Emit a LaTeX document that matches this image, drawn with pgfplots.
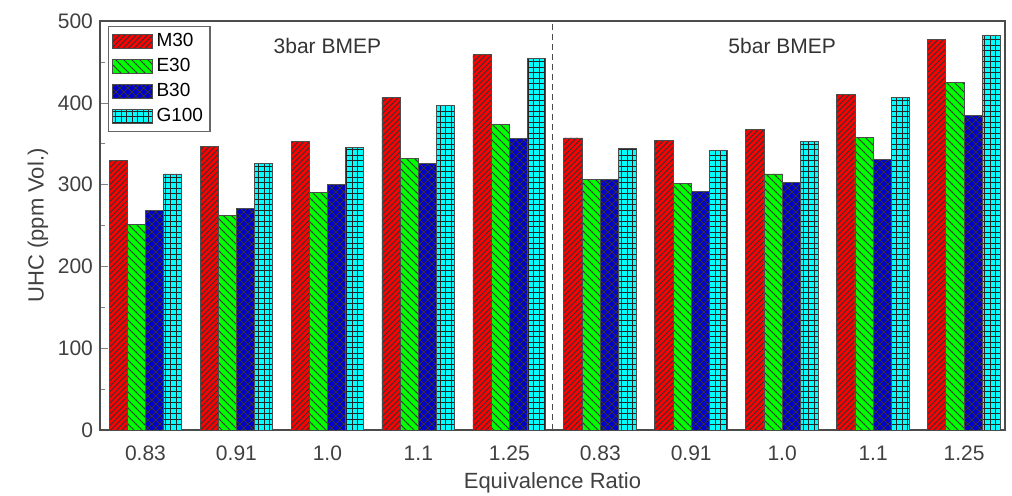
\documentclass[border=0pt]{standalone}
\usepackage{fontspec}
\setmainfont{Liberation Sans}
\usepackage{pgfplots}
\pgfplotsset{compat=1.18}
\usetikzlibrary{patterns}
\definecolor{cM}{RGB}{255,0,0}
\definecolor{cE}{RGB}{0,255,0}
\definecolor{cB}{RGB}{0,0,210}
\definecolor{cG}{RGB}{0,255,255}
\pgfdeclarepatternformonly{myNE}{\pgfqpoint{-1pt}{-1pt}}{\pgfqpoint{4pt}{4pt}}{\pgfqpoint{2.8pt}{2.8pt}}%
{\pgfsetlinewidth{0.45pt}\pgfpathmoveto{\pgfqpoint{-0.1pt}{-0.1pt}}\pgfpathlineto{\pgfqpoint{2.9pt}{2.9pt}}\pgfusepath{stroke}}
\pgfdeclarepatternformonly{myNW}{\pgfqpoint{-1pt}{-1pt}}{\pgfqpoint{5pt}{5pt}}{\pgfqpoint{4pt}{4pt}}%
{\pgfsetlinewidth{0.45pt}\pgfpathmoveto{\pgfqpoint{-0.1pt}{4.1pt}}\pgfpathlineto{\pgfqpoint{4.1pt}{-0.1pt}}\pgfusepath{stroke}}
\pgfdeclarepatternformonly{myX}{\pgfqpoint{-1pt}{-1pt}}{\pgfqpoint{5pt}{5pt}}{\pgfqpoint{4pt}{4pt}}%
{\pgfsetlinewidth{0.4pt}\pgfpathmoveto{\pgfqpoint{-0.1pt}{-0.1pt}}\pgfpathlineto{\pgfqpoint{4.1pt}{4.1pt}}\pgfpathmoveto{\pgfqpoint{-0.1pt}{4.1pt}}\pgfpathlineto{\pgfqpoint{4.1pt}{-0.1pt}}\pgfusepath{stroke}}
\pgfdeclarepatternformonly{myGrid}{\pgfqpoint{-1pt}{-1pt}}{\pgfqpoint{4pt}{4pt}}{\pgfqpoint{2.75pt}{2.75pt}}%
{\pgfsetlinewidth{0.4pt}\pgfpathmoveto{\pgfqpoint{0pt}{-0.1pt}}\pgfpathlineto{\pgfqpoint{0pt}{2.85pt}}\pgfpathmoveto{\pgfqpoint{-0.1pt}{0pt}}\pgfpathlineto{\pgfqpoint{2.85pt}{0pt}}\pgfusepath{stroke}}
\begin{document}
\begin{tikzpicture}
\begin{axis}[
  scale only axis,
  width=452.5pt, height=204.5pt,
  at={(0,0)}, anchor=south west,
  ybar=0pt, bar width=0.2,
  xmin=-0.5, xmax=9.45,
  ymin=0, ymax=500,
  ytick={0,100,...,500},
  minor ytick={50,150,...,450},
  ytick pos=left,
  tick align=inside,
  major tick length=4pt, minor tick length=2.5pt,
  xtick={0,...,9},
  xticklabels={0.83,0.91,1.0,1.1,1.25,0.83,0.91,1.0,1.1,1.25},
  x tick style={draw=none},
  tick label style={font=\fontsize{10.5}{12}\selectfont, text=black!75},
  xticklabel style={yshift=-4.5pt},
  /pgf/number format/assume math mode=true,
  xlabel={Equivalence Ratio},
  ylabel={UHC (ppm Vol.)},
  label style={font=\fontsize{11}{13}\selectfont, text=black!75},
  xlabel style={yshift=1pt},
  ylabel style={yshift=-2pt},
  axis line style={black!70, line width=0.6pt},
  legend style={at={(0.009,0.988)}, anchor=north west, draw=black!60, line width=0.6pt,
    font=\fontsize{9.5}{11}\selectfont, row sep=0.3pt, inner sep=1.5pt,
    legend cell align=left},
  legend image code/.code={\draw[#1] (0pt,-3.5pt) rectangle (20pt,3.5pt);},
  every axis plot/.append style={line width=0.4pt},
]
\addplot[fill=cM, draw=black!70, postaction={pattern=myNE, pattern color=black!80}]
 coordinates {(0,329) (1,347) (2,353) (3,406) (4,459) (5,357) (6,354) (7,367) (8,410) (9,477)};
\addplot[fill=cE, draw=black!70, postaction={pattern=myNW, pattern color=black!80}]
 coordinates {(0,251) (1,262) (2,290) (3,332) (4,374) (5,306) (6,301) (7,313) (8,358) (9,425)};
\addplot[fill=cB, draw=black!70, postaction={pattern=myX, pattern color=black!80}]
 coordinates {(0,268) (1,271) (2,300) (3,326) (4,356) (5,306) (6,292) (7,303) (8,331) (9,385)};
\addplot[fill=cG, draw=black!70, postaction={pattern=myGrid, pattern color=black!85}]
 coordinates {(0,313) (1,326) (2,345) (3,397) (4,454) (5,344) (6,342) (7,353) (8,406) (9,482)};
\legend{M30,E30,B30,G100}
\addplot[sharp plot, forget plot, draw=black!70, line width=0.5pt, dash pattern=on 3pt off 2pt, mark=none]
 coordinates {(4.48,0) (4.48,500)};
\node[font=\fontsize{10.5}{12}\selectfont, text=black!80] at (axis cs:2,470) {3bar BMEP};
\node[font=\fontsize{10.5}{12}\selectfont, text=black!80] at (axis cs:7,470) {5bar BMEP};
\end{axis}
\pgfresetboundingbox
\path (-50pt,-33pt) rectangle (456pt,215pt);
\end{tikzpicture}
\end{document}
